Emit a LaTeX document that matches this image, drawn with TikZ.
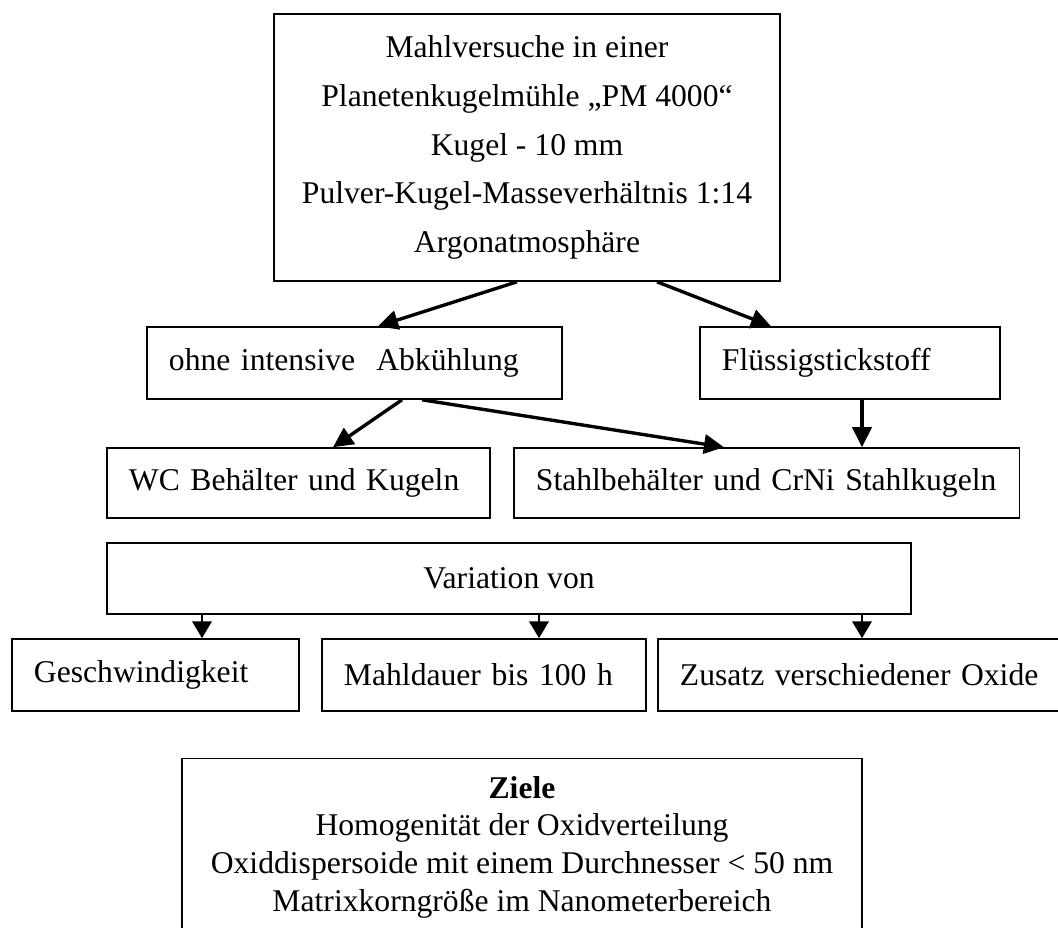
\documentclass[tikz,border=0pt]{standalone}
\usepackage{fontspec}
\setmainfont{Liberation Serif}
\usetikzlibrary{arrows.meta}

\tikzset{
  box/.style={shape=rectangle,draw=black,line width=1.1pt,inner xsep=0.55cm,inner ysep=0pt,align=left,font=\fontsize{22.5}{27}\selectfont},
  bigarrow/.style={-{Triangle[length=0.5cm,width=0.48cm]},line width=2.4pt},
  smallarrow/.style={-{Triangle[length=0.42cm,width=0.48cm]},line width=1.9pt},
}

\begin{document}
\begin{tikzpicture}[x=0.025cm,y=-0.025cm]
        \useasboundingbox (0,0) rectangle (1058,927);
        % Versuchsbedingungen
        \node[box,align=center,minimum width=12.65cm,minimum height=6.675cm,font=\fontsize{22.5}{34.6}\selectfont] (versuch) at (527,147.5) {Mahlversuche in einer\\ Planetenkugelmühle „PM 4000“\\ Kugel - 10 mm\\ Pulver-Kugel-Masseverhältnis 1:14\\ Argonatmosphäre};
        \node[box,text width=9.275cm,minimum height=1.8cm] (ohne) at (354.5,363) {ohne intensive \ Abkühlung};
        \node[box,text width=6.4cm,minimum height=1.8cm] (fluessig) at (850,363) {Flüssigstickstoff};
        \node[box,text width=8.475cm,minimum height=1.75cm] (wc) at (298.5,483) {WC Behälter und Kugeln};
        \node[box,text width=11.5375cm,minimum height=1.75cm] (stahl) at (766.75,483) {Stahlbehälter und CrNi Stahlkugeln};
        \node[box,align=center,minimum width=20.1cm,minimum height=1.775cm] (variation) at (509,578.5) {Variation von};
        \node[box,text width=6.075cm,minimum height=1.8cm] (geschw) at (155.5,675) {Geschwindigkeit};
        \node[box,text width=7cm,minimum height=1.8cm] (mahl) at (484,675) {Mahldauer bis 100 h};
        \node[box,text width=9.15cm,minimum height=1.8cm] (zusatz) at (863,675) {Zusatz verschiedener Oxide};
        % Ziele
        \node[box,align=center,minimum width=17cm,minimum height=4.425cm,font=\fontsize{22.5}{26.8}\selectfont] (ziele) at (522,847) {\textbf{Ziele}\\ Homogenität der Oxidverteilung\\ Oxiddispersoide mit einem Durchnesser < 50 nm\\ Matrixkorngröße im Nanometerbereich};
        \path [bigarrow] (517,0 |- versuch.south) edge (378,0 |- ohne.north);
        \path [bigarrow] (657,0 |- versuch.south) edge (771,0 |- fluessig.north);
        \path [bigarrow] (402,0 |- ohne.south) edge (333,0 |- wc.north);
        \path [bigarrow] (422,0 |- ohne.south) edge (724,0 |- stahl.north);
        \path [bigarrow] (862,0 |- fluessig.south) edge (862,0 |- stahl.north);
        \foreach \x/\n in {202/geschw,539/mahl,862/zusatz}
            \path [smallarrow] (\x,0 |- variation.south) edge (\x,0 |- \n.north);
\end{tikzpicture}
\end{document}
